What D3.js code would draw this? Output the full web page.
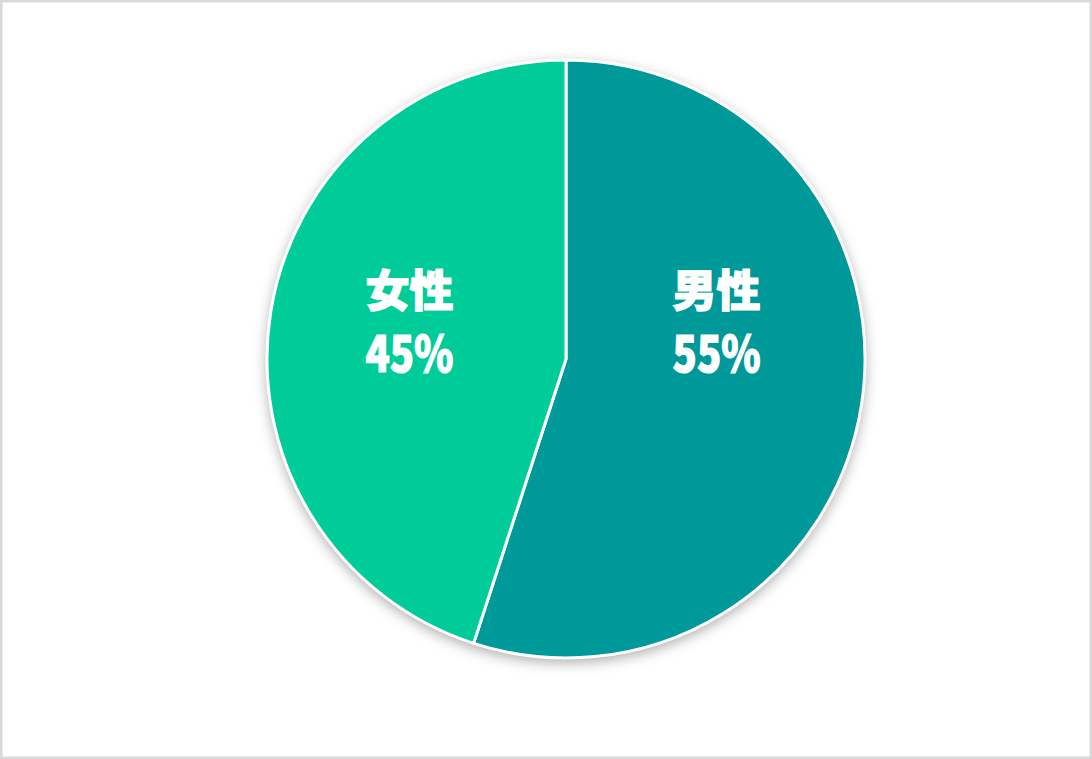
<!DOCTYPE html>
<html><head><meta charset="utf-8">
<script src="https://cdn.jsdelivr.net/npm/d3@7"></script>
<style>html,body{margin:0;padding:0;background:#fff;overflow:hidden}</style>
</head><body>
<svg id="chart" width="1092" height="759"></svg>
<script>
const categories = ["男性", "女性"];
const values = [55, 45];
const labels = ["55%", "45%"];
const colors = ["#009999", "#00CC99"];

const svg = d3.select("#chart");
const W = 1092, H = 759;
svg.append("rect").attr("x", 1.25).attr("y", 1.25).attr("width", W - 2.5).attr("height", H - 2.5)
  .attr("fill", "#fff").attr("stroke", "#d9d9d9").attr("stroke-width", 2.5);

const defs = svg.append("defs");
const f = defs.append("filter").attr("id", "sh").attr("x", "-20%").attr("y", "-20%").attr("width", "140%").attr("height", "140%");
f.append("feDropShadow").attr("dx", 0).attr("dy", 4).attr("stdDeviation", 7).attr("flood-color", "#000").attr("flood-opacity", 0.35);

const cx = 566, cy = 359, r = 299;
const pie = d3.pie().sort(null).value(d => d)(values);
const arc = d3.arc().innerRadius(0).outerRadius(r);

const g = svg.append("g").attr("transform", `translate(${cx},${cy})`);
g.append("circle").attr("r", r).attr("fill", "#fff").attr("filter", "url(#sh)");
g.selectAll("path").data(pie).join("path")
  .attr("d", arc).attr("fill", (d, i) => colors[i])
  .attr("stroke", "#fff").attr("stroke-width", 3).attr("stroke-linejoin", "round");

const labelArc = d3.arc().innerRadius(r * 0.52).outerRadius(r * 0.52);
const font = "'Noto Sans CJK JP', sans-serif";
const t = g.selectAll("text.lbl").data(pie).join("text").attr("class", "lbl")
  .attr("transform", d => {
    const c = labelArc.centroid(d);
    return `translate(${c[0] - 3},0)`;
  })
  .attr("text-anchor", "middle")
  .attr("font-family", font).attr("font-weight", 900)
  .attr("fill", "#fff").attr("stroke", "#fff").attr("stroke-width", 1.2);
t.append("tspan").attr("x", 0).attr("y", -52).attr("font-size", 44)
  .text((d, i) => categories[i]);
t.append("tspan").attr("x", 0).attr("y", 13).attr("font-size", 50)
  .attr("textLength", 88).attr("lengthAdjust", "spacingAndGlyphs")
  .text((d, i) => labels[i]);
</script>
</body></html>
